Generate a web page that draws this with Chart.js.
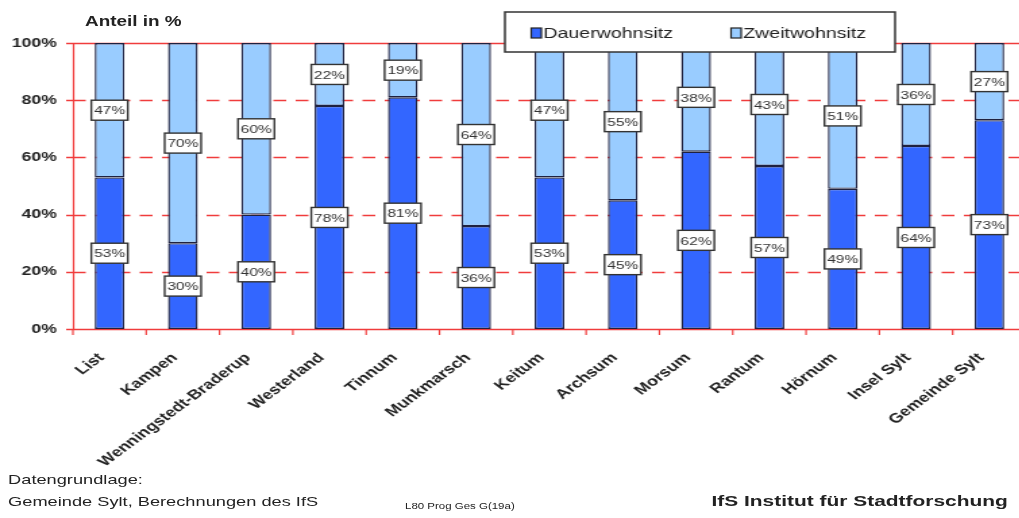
<!DOCTYPE html>
<html><head><meta charset="utf-8">
<script src="https://cdn.jsdelivr.net/npm/chart.js@4/dist/chart.umd.min.js"></script>
<style>
html,body{margin:0;padding:0;background:#fff;overflow:hidden;width:1019px;height:518px;}
#wrap{position:absolute;left:0;top:0;width:760px;height:518px;transform:scaleX(1.35);transform-origin:0 0;}
#c{position:absolute;left:0;top:0;}
.t{position:absolute;font-family:Arial,"Liberation Sans",sans-serif;color:#222;white-space:nowrap;}
</style></head>
<body>
<div id="wrap">
<canvas id="c" width="760" height="518"></canvas>
<div class="t" style="left:63px;top:13px;font-size:14px;font-weight:bold;">Anteil in %</div>
<div class="t" style="left:6px;top:472px;font-size:13.5px;">Datengrundlage:</div>
<div class="t" style="left:6px;top:494px;font-size:13.5px;">Gemeinde Sylt, Berechnungen des IfS</div>
<div class="t" style="left:300px;top:501px;font-size:8.5px;">L80 Prog Ges G(19a)</div>
<div class="t" style="left:527px;top:492px;font-size:15.5px;font-weight:bold;">IfS Institut für Stadtforschung</div>
</div>
<script>
const categories = ["List","Kampen","Wenningstedt-Braderup","Westerland","Tinnum","Munkmarsch","Keitum","Archsum","Morsum","Rantum","Hörnum","Insel Sylt","Gemeinde Sylt"];
const dauerwohnsitz = [53,30,40,78,81,36,53,45,62,57,49,64,73];
const zweitwohnsitz = [47,70,60,22,19,64,47,55,38,43,51,36,27];
const yTicks = [0,20,40,60,80,100];

const FONT = 'Arial, "Liberation Sans", sans-serif';
const RED = '#f03c3c';

const gridPlugin = {
  id:'grid',
  beforeDatasetsDraw(chart){
    const {ctx, chartArea:a, scales:{x,y}} = chart;
    ctx.save();
    ctx.strokeStyle = RED; ctx.lineWidth = 1.5;
    yTicks.forEach(v=>{
      const py = Math.round(y.getPixelForValue(v))+0.5;
      ctx.setLineDash(v===0||v===100?[]:[9.5,7]);
      ctx.beginPath(); ctx.moveTo(a.left, py); ctx.lineTo(a.right, py); ctx.stroke();
      ctx.setLineDash([]);
      ctx.beginPath(); ctx.moveTo(a.left-5, py); ctx.lineTo(a.left, py); ctx.stroke();
    });
    ctx.setLineDash([]);
    ctx.lineWidth = 1.2;
    ctx.beginPath(); ctx.moveTo(a.left+0.5, a.top); ctx.lineTo(a.left+0.5, a.bottom); ctx.stroke();
    const step = x.getPixelForValue(1)-x.getPixelForValue(0);
    for(let i=0;i<=categories.length;i++){
      const px = x.getPixelForValue(0) - step/2 + i*step;
      ctx.beginPath(); ctx.moveTo(px, a.bottom); ctx.lineTo(px, a.bottom+6); ctx.stroke();
    }
    ctx.restore();
  }
};

const labelPlugin = {
  id:'vals',
  afterDatasetsDraw(chart){
    const ctx = chart.ctx;
    ctx.save();
    ctx.font = '11.5px '+FONT;
    ctx.textAlign='center'; ctx.textBaseline='middle';
    chart.data.datasets.forEach((ds,di)=>{
      const meta = chart.getDatasetMeta(di);
      meta.data.forEach((bar,i)=>{
        const cy = (bar.y + bar.base)/2;
        const w = 27, h = 20;
        ctx.fillStyle='#fff'; ctx.strokeStyle='#333'; ctx.lineWidth=1.4;
        ctx.fillRect(bar.x-w/2, cy-h/2, w, h);
        ctx.strokeRect(bar.x-w/2, cy-h/2, w, h);
        ctx.fillStyle='#333';
        ctx.fillText(ds.data[i]+'%', bar.x, cy+1);
      });
    });
    ctx.restore();
  }
};

const legendPlugin = {
  id:'leg',
  afterDraw(chart){
    const ctx = chart.ctx;
    ctx.save();
    ctx.fillStyle='#fff'; ctx.strokeStyle='#333'; ctx.lineWidth=1.5;
    ctx.fillRect(374,12,289,40); ctx.strokeRect(374,12,289,40);
    ctx.font='14.5px '+FONT; ctx.textBaseline='middle'; ctx.textAlign='left';
    const xs=[393.5,541.5];
    chart.data.datasets.forEach((ds,i)=>{
      ctx.fillStyle=ds.backgroundColor; ctx.strokeStyle='#222'; ctx.lineWidth=1.2;
      ctx.fillRect(xs[i],28,7.5,10); ctx.strokeRect(xs[i],28,7.5,10);
      ctx.fillStyle='#222';
      ctx.fillText(ds.label, xs[i]+9, 33.5);
    });
    ctx.restore();
  }
};

new Chart(document.getElementById('c'), {
  type:'bar',
  data:{
    labels:categories,
    datasets:[
      {label:'Dauerwohnsitz', data:dauerwohnsitz, backgroundColor:'#3366ff', borderColor:'#1e2140', borderWidth:1.4, borderSkipped:false},
      {label:'Zweitwohnsitz', data:zweitwohnsitz, backgroundColor:'#99ccff', borderColor:'#1e2140', borderWidth:1.4, borderSkipped:false}
    ]
  },
  options:{
    responsive:false, animation:false, devicePixelRatio:1,
    layout:{padding:{top:43,left:0,right:0,bottom:0}},
    plugins:{legend:{display:false}, tooltip:{enabled:false}},
    datasets:{bar:{categoryPercentage:1, barPercentage:0.405}},
    scales:{
      x:{stacked:true, grid:{display:false}, border:{display:false},
         ticks:{minRotation:45,maxRotation:45,autoSkip:false,color:'#222',font:{family:FONT,size:13.5,weight:'bold'},padding:13,labelOffset:-6},
         afterFit(s){s.height=189;}},
      y:{stacked:true, min:0, max:100, grid:{display:false}, border:{display:false},
         ticks:{stepSize:20,color:'#222',padding:4,font:{family:FONT,size:13,weight:'bold'},callback:v=>v+'%'},
         afterFit(s){s.width=54;}}
    }
  },
  plugins:[gridPlugin,labelPlugin,legendPlugin]
});
</script>
</body></html>
